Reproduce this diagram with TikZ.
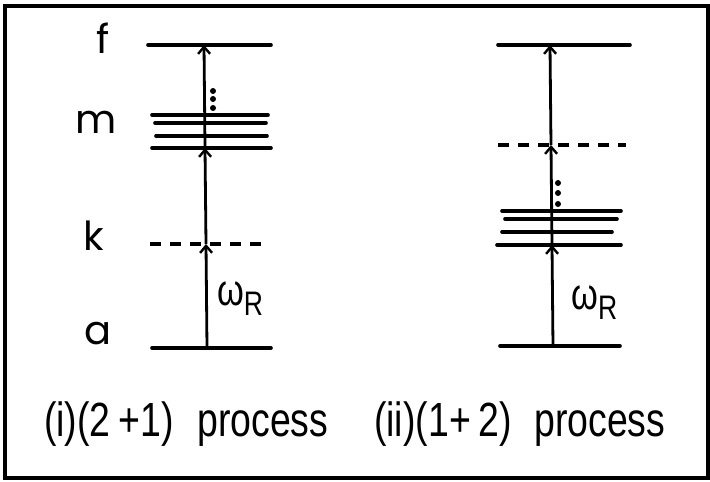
\documentclass[tikz,border=0pt]{standalone}
\usepackage{fontspec}
\setmainfont{Liberation Sans}
\newfontfamily\capfont[FakeStretch=0.78]{Liberation Sans}
\newfontfamily\lblfont{Poppins}
\usetikzlibrary{arrows.meta}
\begin{document}
\begin{tikzpicture}[x=1pt,y=-1pt,
  level/.style={line width=3.6pt,line cap=round},
  virt/.style={line width=3.4pt,dash pattern=on 11pt off 9pt},
  trans/.style={line width=2.8pt,-{Straight Barb[length=7pt,width=12pt,line width=2.4pt]}},
  lbl/.style={font=\fontsize{40}{44}\selectfont\lblfont},
  captxt/.style={font=\fontsize{48}{52}\selectfont\capfont,anchor=base west,inner sep=0pt},
  om/.style={font=\fontsize{44}{48}\selectfont\capfont,inner sep=0pt},
  dotc/.style={fill=black}]
\useasboundingbox (0,0) rectangle (710,482);
\draw[line width=3.4pt] (5,6) rectangle (708,478);
% left labels
\node[lbl] (lf) at (103,38) {f};
\node[lbl] (lm) at (96,122) {m};
\node[lbl] (lk) at (94,236) {k};
\node[lbl] (la) at (98,334) {a};
% left diagram
\draw[level] (148,45) -- (271,45);
\draw[level] (152,115) -- (268,115);
\draw[level] (155,123) -- (266,123);
\draw[level] (156,136) -- (267,136);
\draw[level] (152,148) -- (271,148);
\draw[virt] (150,244) -- (265,244);
\draw[level] (152,348) -- (271,348);
\coordinate (La) at (207,348);
\coordinate (Lk) at (206,244);
\coordinate (Lm) at (205,148);
\coordinate (Lf) at (204,45);
\draw[trans] (La) -- (Lk);
\draw[trans] (Lk) -- (Lm);
\draw[trans] (Lm) -- (Lf);
\foreach \yy in {91,99,108} \fill[dotc] (213,\yy) circle (3pt);
\node[om,anchor=base west] (lw) at (217,305) {ω\raisebox{-10pt}{\fontsize{34}{38}\selectfont R}};
% right diagram
\draw[level] (498,45) -- (630,45);
\draw[virt] (498,145) -- (626,145);
\draw[level] (502,211) -- (621,211);
\draw[level] (505,219) -- (617,219);
\draw[level] (502,232) -- (612,232);
\draw[level] (497,245) -- (621,245);
\draw[level] (500,346) -- (620,346);
\coordinate (Ra) at (553,346);
\coordinate (Rm) at (552,245);
\coordinate (Rv) at (551,145);
\coordinate (Rf) at (550,45);
\draw[trans] (Ra) -- (Rm);
\draw[trans] (Rm) -- (Rv);
\draw[trans] (Rv) -- (Rf);
\foreach \yy in {183,193,204} \fill[dotc] (558,\yy) circle (3pt);
\node[om,anchor=base west] (rw) at (571,309) {ω\raisebox{-10pt}{\fontsize{34}{38}\selectfont R}};
% captions
\node[captxt] (c1) at (44,436) {(i)(2\,+1)};
\node[captxt] (c2) at (197,436) {process};
\node[captxt] (c3) at (374,436) {(ii)(1+\,2)};
\node[captxt] (c4) at (534,436) {process};
\end{tikzpicture}
\end{document}
